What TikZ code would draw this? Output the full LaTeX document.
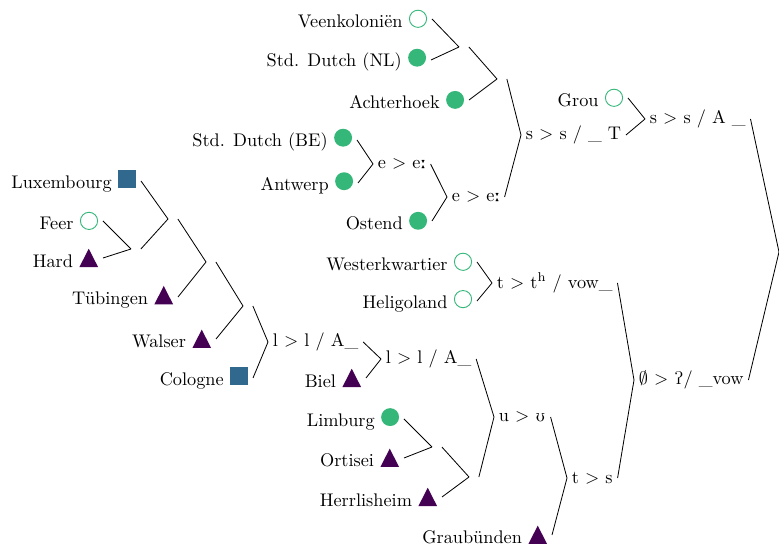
\documentclass[tikz,border=0pt]{standalone}
\usepackage{tipa}
\definecolor{vgreen}{RGB}{53,183,121}
\definecolor{vblue}{RGB}{49,104,142}
\definecolor{vpurple}{RGB}{68,1,84}
\newcommand{\mkfill}{\hspace{3.5pt}\tikz\fill[vgreen] (0,0) circle[radius=4.9pt];}
\newcommand{\mkopen}{\hspace{3.5pt}\tikz\draw[vgreen,line width=0.5pt] (0,0) circle[radius=4.7pt];}
\newcommand{\mksq}{\hspace{3.5pt}\tikz\fill[vblue] (0,0) rectangle (9.8pt,9.8pt);}
\newcommand{\mktri}{\hspace{3.5pt}\tikz\fill[vpurple] (0,0) -- (10.2pt,0) -- (5.1pt,10pt) -- cycle;}
\tikzset{
  leaf/.style={anchor=east,inner sep=2.5pt},
  rule/.style={anchor=west,inner sep=2.5pt},
  joint/.style={anchor=west,inner sep=2.5pt,minimum size=0pt},
  edge/.style={draw=black,line width=0.45pt}
}
\begin{document}
\begin{tikzpicture}[x=0.547pt,y=-0.547pt]
\useasboundingbox (0,0) rectangle (779,546);
% leaves
\node[leaf] (veen) at (432,19) {Veenkoloniën\mkopen};
\node[leaf] (sdnl) at (431,60) {Std. Dutch (NL)\mkfill};
\node[leaf] (acht) at (469,100) {Achterhoek\mkfill};
\node[leaf] (sdbe) at (357,140) {Std. Dutch (BE)\mkfill};
\node[leaf] (antw) at (358,183) {Antwerp\mkfill};
\node[leaf] (ost) at (432,221) {Ostend\mkfill};
\node[leaf] (grou) at (628,98) {Grou\mkopen};
\node[leaf] (west) at (477,262) {Westerkwartier\mkopen};
\node[leaf] (heli) at (477,301) {Heligoland\mkopen};
\node[leaf] (lux) at (141,181) {Luxembourg\mksq};
\node[leaf] (feer) at (103,221) {Feer\mkopen};
\node[leaf] (hard) at (103,258) {Hard\mktri};
\node[leaf] (tueb) at (178,297) {Tübingen\mktri};
\node[leaf] (wals) at (216,339) {Walser\mktri};
\node[leaf] (colo) at (253,378) {Cologne\mksq};
\node[leaf] (biel) at (366,378) {Biel\mktri};
\node[leaf] (limb) at (404,419) {Limburg\mkfill};
\node[leaf] (orti) at (404,458) {Ortisei\mktri};
\node[leaf] (herr) at (442,497) {Herrlisheim\mktri};
\node[leaf] (grau) at (552,535) {Graubünden\mktri};
% unlabeled joints
\node[joint] (n1) at (131,249) {};
\node[joint] (n2) at (168,219) {};
\node[joint] (n3) at (206,262) {};
\node[joint] (n4) at (243,306) {};
\node[joint] (nV) at (459,47) {};
\node[joint] (nA) at (497,79) {};
\node[joint] (n5) at (432,447) {};
\node[joint] (n6) at (469,477) {};
% labeled rules
\node[rule] (eA) at (373,164) {e $>$ e\textlengthmark};
\node[rule] (eB) at (447,197) {e $>$ e\textlengthmark};
\node[rule] (sT) at (521,135) {s $>$ s / \_ T};
\node[rule] (sA) at (645,119) {s $>$ s / A \_};
\node[rule] (tth) at (492,283) {t $>$ t\textsuperscript{h} / vow\_};
\node[rule] (glot) at (634,380) {$\emptyset$ $>$ \textglotstop/ \_vow};
\node[rule] (lA1) at (268,342) {l $>$ l / A\_};
\node[rule] (lA2) at (381,359) {l $>$ l / A\_};
\node[rule] (uu) at (494,417) {u $>$ \textupsilon};
\node[rule] (ts) at (567,478) {t $>$ s};
\coordinate (root) at (779,252);
% edges
\draw[edge] (sA.east) -- (root);
\draw[edge] (glot.east) -- (root);
\draw[edge] (sT.east) -- (sA.west);
\draw[edge] (grou.east) -- (sA.west);
\draw[edge] (nA.east) -- (sT.west);
\draw[edge] (eB.east) -- (sT.west);
\draw[edge] (nV.east) -- (nA.west);
\draw[edge] (acht.east) -- (nA.west);
\draw[edge] (veen.east) -- (nV.west);
\draw[edge] (sdnl.east) -- (nV.west);
\draw[edge] (eA.east) -- (eB.west);
\draw[edge] (ost.east) -- (eB.west);
\draw[edge] (sdbe.east) -- (eA.west);
\draw[edge] (antw.east) -- (eA.west);
\draw[edge] (tth.east) -- (glot.west);
\draw[edge] (ts.east) -- (glot.west);
\draw[edge] (west.east) -- (tth.west);
\draw[edge] (heli.east) -- (tth.west);
\draw[edge] (uu.east) -- (ts.west);
\draw[edge] (grau.east) -- (ts.west);
\draw[edge] (lA2.east) -- (uu.west);
\draw[edge] (n6.east) -- (uu.west);
\draw[edge] (n5.east) -- (n6.west);
\draw[edge] (herr.east) -- (n6.west);
\draw[edge] (limb.east) -- (n5.west);
\draw[edge] (orti.east) -- (n5.west);
\draw[edge] (lA1.east) -- (lA2.west);
\draw[edge] (biel.east) -- (lA2.west);
\draw[edge] (n4.east) -- (lA1.west);
\draw[edge] (colo.east) -- (lA1.west);
\draw[edge] (n3.east) -- (n4.west);
\draw[edge] (wals.east) -- (n4.west);
\draw[edge] (n2.east) -- (n3.west);
\draw[edge] (tueb.east) -- (n3.west);
\draw[edge] (lux.east) -- (n2.west);
\draw[edge] (n1.east) -- (n2.west);
\draw[edge] (feer.east) -- (n1.west);
\draw[edge] (hard.east) -- (n1.west);
\end{tikzpicture}
\end{document}
